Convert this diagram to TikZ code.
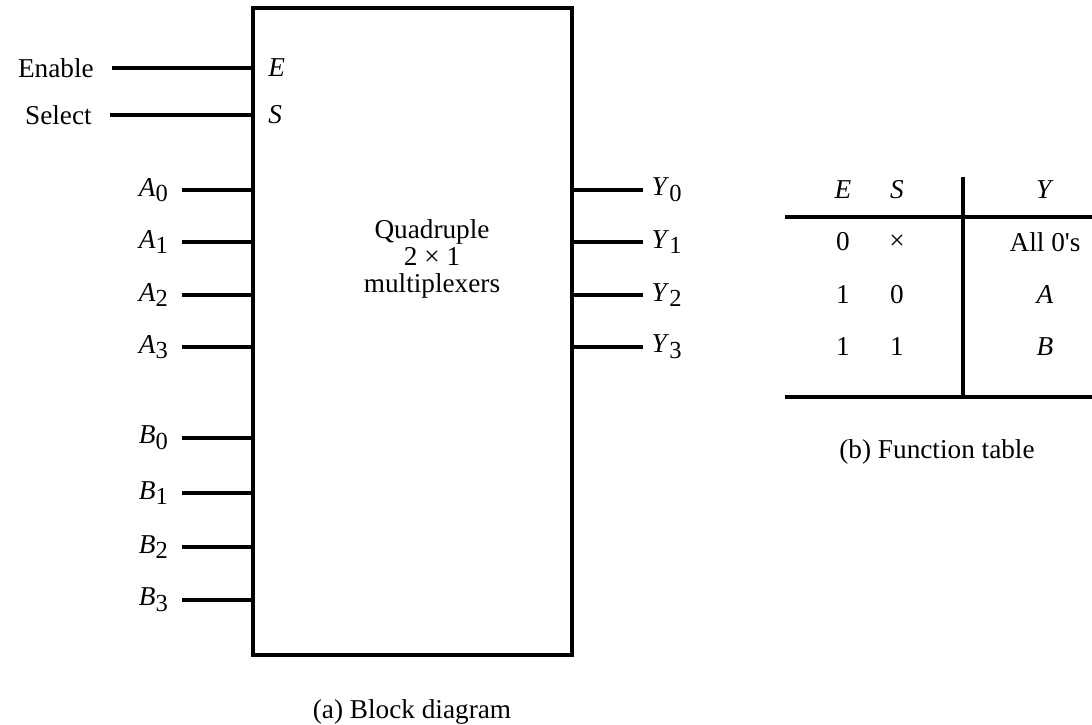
\documentclass[tikz,border=0pt]{standalone}
\usepackage{fontspec}
\setmainfont{Liberation Serif}
\usetikzlibrary{positioning}
\newcommand{\sig}[2]{\textit{#1}\raisebox{-0.45ex}{\small #2}}

\begin{document}
\begin{tikzpicture}[
    x=0.367pt, y=-0.367pt,
    wire/.style={line width=1.2pt},
    box/.style={rectangle, draw, line width=1.2pt, minimum width=117pt, minimum height=237.5pt, inner sep=0pt},
    inlbl/.style={anchor=east, inner ysep=0pt, inner xsep=5pt},
    ctl/.style={anchor=east, inner ysep=0pt, inner xsep=6.5pt},
    outlbl/.style={anchor=west, inner ysep=0pt, inner xsep=3pt},
    cell/.style={inner sep=0pt}
]
    \useasboundingbox (0,0) rectangle (1092,725);

    % block
    \node[box] (mux) at (412.5,331.5) {};
    \node[align=center, font=\fontsize{10}{9.8}\selectfont] (txt) at (432,259) {Quadruple\\2 × 1\\multiplexers};

    % control inputs
    \node[ctl] (en) at (112,68) {Enable};
    \node[ctl] (sel) at (110,115) {Select};
    \draw[wire] (en.east) -- (en.east -| mux.west);
    \draw[wire] (sel.east) -- (sel.east -| mux.west);
    \coordinate (ein) at (en.east -| mux.west);
    \coordinate (sin) at (sel.east -| mux.west);
    \node[right=6pt of ein, inner sep=0pt] (pe) {\textit{E}};
    \node[right=6pt of sin, inner sep=0pt] (ps) {\textit{S}};

    % data inputs
    \node[inlbl] (a0) at (182,190) {\sig{A}{0}};
    \node[inlbl] (a1) at (182,242) {\sig{A}{1}};
    \node[inlbl] (a2) at (182,295) {\sig{A}{2}};
    \node[inlbl] (a3) at (182,347) {\sig{A}{3}};
    \node[inlbl] (b0) at (182,438) {\sig{B}{0}};
    \node[inlbl] (b1) at (182,493) {\sig{B}{1}};
    \node[inlbl] (b2) at (182,547) {\sig{B}{2}};
    \node[inlbl] (b3) at (182,600) {\sig{B}{3}};
    \draw[wire] (a0.east) -- (a0.east -| mux.west);
    \draw[wire] (a1.east) -- (a1.east -| mux.west);
    \draw[wire] (a2.east) -- (a2.east -| mux.west);
    \draw[wire] (a3.east) -- (a3.east -| mux.west);
    \draw[wire] (b0.east) -- (b0.east -| mux.west);
    \draw[wire] (b1.east) -- (b1.east -| mux.west);
    \draw[wire] (b2.east) -- (b2.east -| mux.west);
    \draw[wire] (b3.east) -- (b3.east -| mux.west);

    % outputs
    \node[outlbl] (y0) at (643,190) {\sig{Y}{0}};
    \node[outlbl] (y1) at (643,242) {\sig{Y}{1}};
    \node[outlbl] (y2) at (643,295) {\sig{Y}{2}};
    \node[outlbl] (y3) at (643,347) {\sig{Y}{3}};
    \draw[wire] (y0.west -| mux.east) -- (y0.west);
    \draw[wire] (y1.west -| mux.east) -- (y1.west);
    \draw[wire] (y2.west -| mux.east) -- (y2.west);
    \draw[wire] (y3.west -| mux.east) -- (y3.west);

    \node (capa) at (412,712) {(a) Block diagram};

    % function table
    \node[cell] (hE) at (843,190) {\textit{E}};
    \node[cell] (hS) at (897,190) {\textit{S}};
    \node[cell] (hY) at (1045,190) {\textit{Y}};
    \node[cell] (e1) at (843,242) {0};
    \node[cell] (s1) at (897,242) {×};
    \node[cell] (r1) at (1045,242) {All 0\textquotesingle s};
    \node[cell] (e2) at (843,295) {1};
    \node[cell] (s2) at (897,295) {0};
    \node[cell] (r2) at (1045,295) {\textit{A}};
    \node[cell] (e3) at (843,347) {1};
    \node[cell] (s3) at (897,347) {1};
    \node[cell] (r3) at (1045,347) {\textit{B}};
    \coordinate (tl) at (785,217);
    \coordinate (tr) at (1092,217);
    \coordinate (bl) at (785,397);
    \coordinate (br) at (1092,397);
    \coordinate (vt) at (963,177);
    \draw[wire] (tl) -- (tr);
    \draw[wire] (bl) -- (br);
    \draw[wire] (vt) -- (vt |- bl);

    \node (capb) at (937,452) {(b) Function table};
\end{tikzpicture}
\end{document}
